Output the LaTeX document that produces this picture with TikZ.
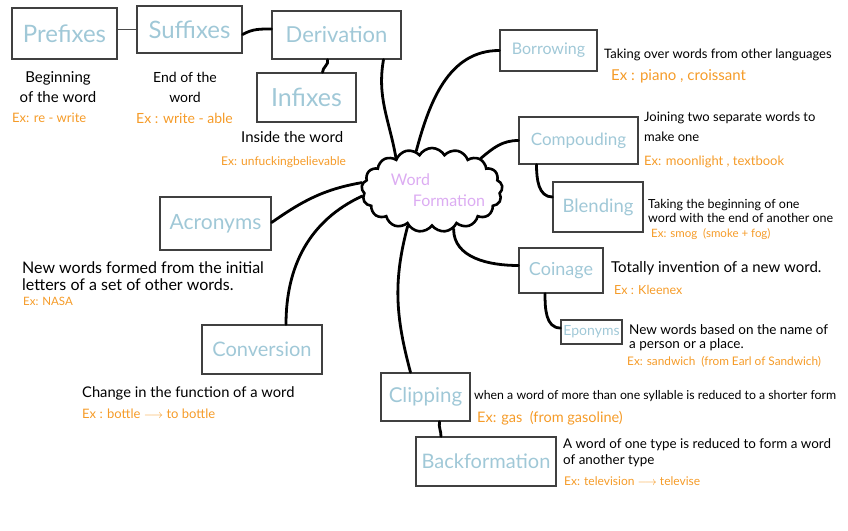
\documentclass[tikz,border=0pt]{standalone}
\usepackage{fontspec}
\setmainfont{Lato}
\usepackage{xcolor}
\usepackage{tikz}
\usetikzlibrary{%
  shapes.symbols,
  positioning}
\definecolor{termblue}{RGB}{160,200,215}
\definecolor{exorange}{RGB}{245,155,40}
\definecolor{cloudpurple}{RGB}{220,172,242}
\tikzset{
  %% Term boxes
  termbox/.style={
    rectangle, draw=black!75, line width=1.3pt,
    text=termblue, inner sep=0pt,
    font=\fontsize{#1}{#1}\selectfont},
  termbox/.default=20,
  %% Definition text
  defntext/.style={
    inner sep=0pt, align=left, anchor=west,
    font=\fontsize{#1}{#1}\selectfont},
  defntext/.default=13,
  %% Example text
  extext/.style={
    inner sep=0pt, anchor=west, text=exorange,
    font=\fontsize{#1}{#1}\selectfont},
  extext/.default=11,
  %% Connectors
  link/.style={line width=2.8pt, black, line cap=round},
  thinlink/.style={line width=1.5pt, black!70},
}
\begin{document}
\begin{tikzpicture}[x=1pt, y=-1pt]
  \useasboundingbox (0,0) rectangle (848,530);

  %% Centre
  \node[cloud, cloud puffs=17, cloud puff arc=120, aspect=1.7,
        draw, line width=2.6pt, inner sep=0pt,
        minimum width=141pt, minimum height=84pt] (wf) at (432,190) {};
  \node[text=cloudpurple, align=left, inner sep=0pt,
        font=\fontsize{16}{21}\selectfont] (wftext) at (438,190)
        {Word\\\hspace*{22pt}Formation};

  %% Derivation branch
  \node[termbox=24, minimum width=105pt, minimum height=51pt] (prefix) at (64.5,33.5) {Prefixes};
  \node[termbox=24, minimum width=105pt, minimum height=47pt] (suffix) at (189.5,29.5) {Suffixes};
  \node[termbox=22, minimum width=129pt, minimum height=48pt] (deriv)  at (336.5,35)   {Derivation};
  \node[termbox=25, minimum width=99pt,  minimum height=49pt] (infix)  at (306.5,97.5) {Infixes};

  \node[defntext, align=center, anchor=center,
        font=\fontsize{15}{20}\selectfont] (prefixdef) at (58,87) {Beginning\\of the word};
  \node[defntext, align=center, anchor=center,
        font=\fontsize{14}{20}\selectfont] (suffixdef) at (185,87) {End of the\\word};
  \node[extext=13] (prefixex) at (12,118)  {Ex: re - write};
  \node[extext=14] (suffixex) at (136,118) {Ex : write - able};
  \node[defntext=15] (infixdef) at (241,137) {Inside the word};
  \node[extext=12]   (infixex)  at (221,162) {Ex: unfuckingbelievable};

  \draw[thinlink] (prefix.east |- suffix.west) -- (suffix.west);
  \draw[link] ([yshift=-5pt]suffix.east) to[out=30, in=180] ([yshift=6pt]deriv.west);
  \draw[link] ([xshift=-9pt]deriv.south) to[out=-70, in=90] ([xshift=16pt]infix.north);
  \draw[link] ([xshift=47pt]deriv.south) to[out=-100, in=100] (wf.138);

  %% Right side
  \node[termbox=16,   minimum width=97pt,  minimum height=41pt] (borrow)   at (548.5,50.5)  {Borrowing};
  \node[termbox=17,   minimum width=119pt, minimum height=47pt] (compound) at (578.5,140.5) {Compouding};
  \node[termbox=18.5, minimum width=90pt,  minimum height=50pt] (blend)    at (598,207)     {Blending};
  \node[termbox=18,   minimum width=84pt,  minimum height=45pt] (coin)     at (561,270.5)   {Coinage};
  \node[termbox=14,   minimum width=61pt,  minimum height=24pt] (epon)     at (591.5,332)   {Eponyms};

  \node[defntext=13] (borrowdef) at (604,55) {Taking over words from other languages};
  \node[extext=15]   (borrowex)  at (611,76) {Ex : piano , croissant};
  \node[defntext, font=\fontsize{13}{20}\selectfont] (compounddef) at (644,127)
        {Joining two separate words to\\make one};
  \node[extext=13]   (compoundex) at (644,162) {Ex: moonlight , textbook};
  \node[defntext, font=\fontsize{12.5}{14}\selectfont] (blenddef) at (648,211)
        {Taking the beginning of one\\word with the end of another one};
  \node[extext=11.5] (blendex) at (651,234) {Ex: smog \ (smoke + fog)};
  \node[defntext=15] (coindef) at (611,268) {Totally invention of a new word.};
  \node[extext=12.5] (coinex)  at (614,290) {Ex : Kleenex};
  \node[defntext, font=\fontsize{13.5}{14}\selectfont] (epondef) at (629,338)
        {New words based on the name of\\a person or a place.};
  \node[extext=11.8] (eponex)  at (627,362) {Ex: sandwich \ (from Earl of Sandwich)};

  \draw[link] (borrow.west) to[out=180, in=75] (wf.112);
  \draw[link] (compound.west) to[out=180, in=40] (wf.33);
  \draw[link] ([xshift=-42pt]compound.south) to[out=-90, in=180] ([yshift=10pt]blend.west);
  \draw[link] (wf.299) to[out=-90, in=180] ([yshift=5pt]coin.west);
  \draw[link] ([xshift=-16pt]coin.south) to[out=-90, in=180] ([yshift=4pt]epon.west);

  %% Left side
  \node[termbox=21, minimum width=111pt, minimum height=53pt] (acro) at (215.5,223.5) {Acronyms};
  \node[termbox=20, minimum width=120pt, minimum height=49pt] (conv) at (262,349.5)   {Conversion};

  \node[defntext, font=\fontsize{16}{17}\selectfont] (acrodef) at (22,276)
        {New words formed from the initial\\letters of a set of other words.};
  \node[extext=11.5] (acroex)  at (23,301) {Ex: NASA};
  \node[defntext=14.7] (convdef) at (82,393) {Change in the function of a word};
  \node[extext=13]   (convex)  at (82,414) {Ex : bottle $\longrightarrow$ to bottle};

  \draw[link] ([yshift=1pt]acro.east) to[out=35, in=190] (wf.174);
  \draw[link] ([xshift=24pt]conv.north) to[out=90, in=205] (wf.185);

  %% Bottom
  \node[termbox=20.5, minimum width=89pt,  minimum height=48pt] (clip)  at (425.5,397)  {Clipping};
  \node[termbox=20,   minimum width=140pt, minimum height=49pt] (backf) at (486,461.5)  {Backformation};

  \node[defntext=12.3] (clipdef) at (474,396)
        {when a word of more than one syllable is reduced to a shorter form};
  \node[extext=14.5] (clipex)  at (477,418) {Ex: gas \ (from gasoline)};
  \node[defntext, font=\fontsize{13.4}{16}\selectfont] (backfdef) at (563,453)
        {A word of one type is reduced to form a word\\of another type};
  \node[extext=12]   (backfex) at (564,481) {Ex: television $\longrightarrow$ televise};

  \draw[link] (wf.236) to[out=-105, in=105] ([xshift=-15pt]clip.north);
  \draw[link] ([xshift=14pt]clip.south) to[out=-100, in=90] ([xshift=-45pt]backf.north);

\end{tikzpicture}
\end{document}
